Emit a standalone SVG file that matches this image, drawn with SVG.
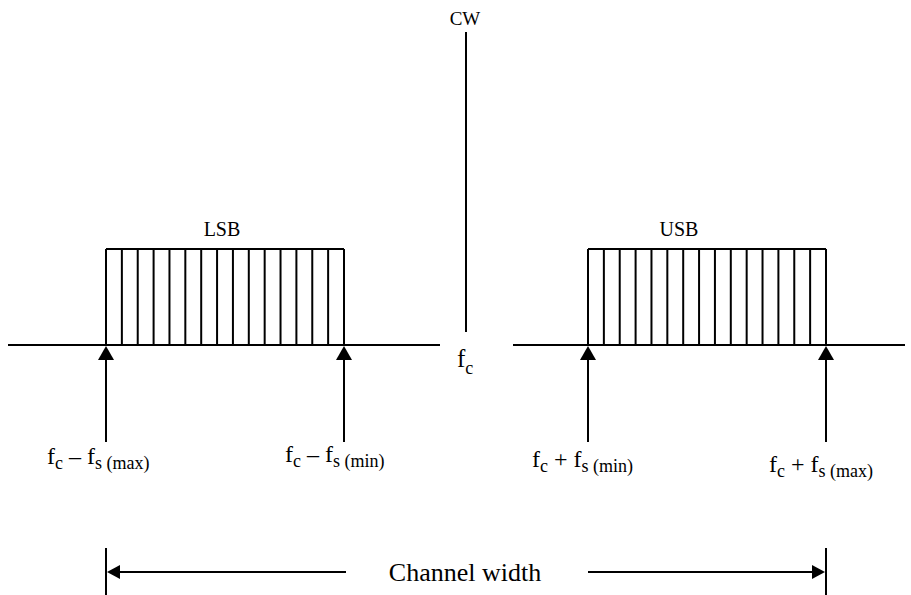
<svg xmlns="http://www.w3.org/2000/svg" width="911" height="595" viewBox="0 0 911 595">
<defs>
<path id="hatch" stroke="#000" stroke-width="2" fill="none" d="M0,249H238M0,249V345M15.87,249V345M31.73,249V345M47.6,249V345M63.47,249V345M79.33,249V345M95.2,249V345M111.07,249V345M126.93,249V345M142.8,249V345M158.67,249V345M174.53,249V345M190.4,249V345M206.27,249V345M222.13,249V345M238,249V345"/>
</defs>
<rect width="911" height="595" fill="#fff"/>
<g id="axis" stroke="#000" stroke-width="2">
<line x1="8" y1="345" x2="440" y2="345"/>
<line x1="513" y1="345" x2="905" y2="345"/>
</g>
<g id="cw">
<line stroke="#000" stroke-width="2" x1="466" y1="32" x2="466" y2="332"/>
<text font-family="'Liberation Serif', serif" x="465" y="25" font-size="19" text-anchor="middle">CW</text>
</g>
<g id="fc">
<text font-family="'Liberation Serif', serif" x="457" y="367" font-size="25">f<tspan font-size="18" dy="7">c</tspan></text>
</g>
<g id="lsb">
<use href="#hatch" x="106"/>
<text font-family="'Liberation Serif', serif" x="222" y="236" font-size="20" text-anchor="middle">LSB</text>
</g>
<g id="usb">
<use href="#hatch" x="588"/>
<text font-family="'Liberation Serif', serif" x="679" y="236" font-size="20" text-anchor="middle">USB</text>
</g>
<g id="connectors" stroke="#000" stroke-width="2" fill="#000">
<line x1="106" y1="352" x2="106" y2="442"/>
<polygon stroke="none" points="106,346 98,360 114,360"/>
<line x1="344" y1="352" x2="344" y2="442"/>
<polygon stroke="none" points="344,346 336,360 352,360"/>
<line x1="588" y1="352" x2="588" y2="442"/>
<polygon stroke="none" points="588,346 580,360 596,360"/>
<line x1="826" y1="352" x2="826" y2="442"/>
<polygon stroke="none" points="826,346 818,360 834,360"/>
<line x1="106" y1="548" x2="106" y2="595"/>
<line x1="826" y1="548" x2="826" y2="595"/>
<line x1="115" y1="572" x2="346" y2="572"/>
<polygon stroke="none" points="107,572 120,565 120,579"/>
<line x1="588" y1="572" x2="817" y2="572"/>
<polygon stroke="none" points="825,572 812,565 812,579"/>
</g>
<g id="labels" font-family="'Liberation Serif', serif">
<text x="47" y="464" font-size="24">f<tspan font-size="18" dy="5">c</tspan><tspan dy="-5"> &#8211; f</tspan><tspan font-size="18" dy="5">s (max)</tspan></text>
<text x="285" y="462" font-size="24">f<tspan font-size="18" dy="5">c</tspan><tspan dy="-5"> &#8211; f</tspan><tspan font-size="18" dy="5">s (min)</tspan></text>
<text x="532" y="467" font-size="24">f<tspan font-size="18" dy="5">c</tspan><tspan dy="-5"> + f</tspan><tspan font-size="18" dy="5">s (min)</tspan></text>
<text x="769" y="472" font-size="24">f<tspan font-size="18" dy="5">c</tspan><tspan dy="-5"> + f</tspan><tspan font-size="18" dy="5">s (max)</tspan></text>
<text x="465" y="581" font-size="26" text-anchor="middle">Channel width</text>
</g>
</svg>
